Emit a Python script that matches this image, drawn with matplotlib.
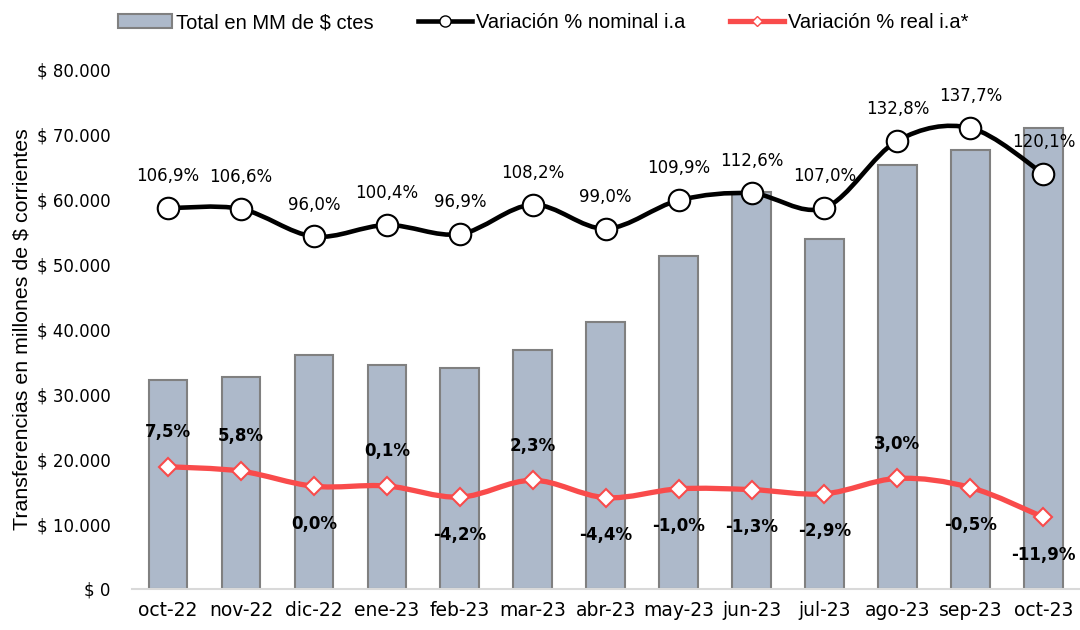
import numpy as np
import matplotlib.pyplot as plt
from matplotlib.path import Path
from matplotlib.patches import PathPatch
from matplotlib.lines import Line2D
from matplotlib.patches import Patch

meses = ["oct-22", "nov-22", "dic-22", "ene-23", "feb-23", "mar-23", "abr-23",
         "may-23", "jun-23", "jul-23", "ago-23", "sep-23", "oct-23"]
total = [32200, 32700, 36100, 34500, 34000, 36900, 41200,
         51400, 61200, 54000, 65300, 67700, 71000]
nominal = [106.9, 106.6, 96.0, 100.4, 96.9, 108.2, 99.0,
           109.9, 112.6, 107.0, 132.8, 137.7, 120.1]
real = [7.5, 5.8, 0.0, 0.1, -4.2, 2.3, -4.4,
        -1.0, -1.3, -2.9, 3.0, -0.5, -11.9]

BAR = "#adb9ca"
RED = "#f94b4b"
FONT = "Liberation Sans"


def smooth_path(x, y):
    # excel-like smoothed line: catmull-rom as cubic bezier segments
    p = np.column_stack([x, y]).astype(float)
    ext = np.vstack([p[0], p, p[-1]])
    verts = [p[0]]
    codes = [Path.MOVETO]
    for i in range(len(p) - 1):
        p0, p1, p2, p3 = ext[i], ext[i + 1], ext[i + 2], ext[i + 3]
        verts += [p1 + (p2 - p0) / 6, p2 - (p3 - p1) / 6, p2]
        codes += [Path.CURVE4] * 3
    return Path(verts, codes)


def fmt(v):
    return f"{v:.1f}".replace(".", ",") + "%"


fig = plt.figure(figsize=(10.8, 6.3), dpi=100)
ax = fig.add_axes([0.1218, 0.0651, 0.878, 0.8238])
x = np.arange(len(meses))

ax.bar(x, total, width=0.53, color=BAR, edgecolor="#808080", linewidth=1.5, zorder=1)
ax.set_xlim(-0.5, len(meses) - 0.5)
ax.set_ylim(0, 80000)
ax.set_yticks(np.arange(0, 80001, 10000))
ax.set_yticklabels(["$ 0"] + [f"$ {v // 1000}.000" for v in range(10000, 80001, 10000)])
ax.set_xticks(x)
ax.set_xticklabels(meses)
ax.tick_params(axis="both", length=0)
ax.tick_params(axis="y", pad=15, labelsize=12)
ax.tick_params(axis="x", pad=9, labelsize=13.5)
for s in ["top", "right", "left"]:
    ax.spines[s].set_visible(False)
ax.spines["bottom"].set_color("#d9d9d9")
ax.spines["bottom"].set_linewidth(1.5)
ax.set_ylabel("Transferencias en millones de $ corrientes", fontsize=15.4,
              family=FONT)
ax.yaxis.set_label_coords(-0.106, 0.5)

ax2 = ax.twinx()
ax2.set_ylim(-39.5, 160)
ax2.axis("off")

ax2.add_patch(PathPatch(smooth_path(x, nominal), facecolor="none",
                        edgecolor="black", linewidth=3.3, zorder=3))
ax2.plot(x, nominal, linestyle="none", marker="o", markersize=15.5,
         markerfacecolor="white", markeredgecolor="black", markeredgewidth=1.5, zorder=4)
ax2.add_patch(PathPatch(smooth_path(x, real), facecolor="none",
                        edgecolor=RED, linewidth=3.8, zorder=3))
ax2.plot(x, real, linestyle="none", marker="D", markersize=9.5,
         markerfacecolor="white", markeredgecolor=RED, markeredgewidth=1.5, zorder=4)

for xi, v in zip(x, nominal):
    ax2.annotate(fmt(v), (xi, v), xytext=(0, 23), textcoords="offset points",
                 ha="center", va="center", fontsize=12, zorder=5)
for xi, v in zip(x, real):
    off = 25 if v > 0 else -27
    ax2.annotate(fmt(v), (xi, v), xytext=(0, off), textcoords="offset points",
                 ha="center", va="center", fontsize=12, fontweight="bold", zorder=5)

handles = [
    Patch(facecolor=BAR, edgecolor="#808080", linewidth=1.5),
    Line2D([], [], color="black", linewidth=3.3, marker="o", markersize=8,
           markerfacecolor="white", markeredgecolor="black"),
    Line2D([], [], color=RED, linewidth=3.8, marker="D", markersize=5.5,
           markerfacecolor="white", markeredgecolor=RED),
]
labels = ["Total en MM de $ ctes", "Variación % nominal i.a", "Variación % real i.a*"]
fig.legend(handles, labels, loc="upper center", bbox_to_anchor=(0.503, 1.008), ncol=3,
           frameon=False, prop={"family": FONT, "size": 14.5}, handlelength=2.7,
           handletextpad=0.2, columnspacing=2.2)

fig.savefig("out.png", dpi=100)
